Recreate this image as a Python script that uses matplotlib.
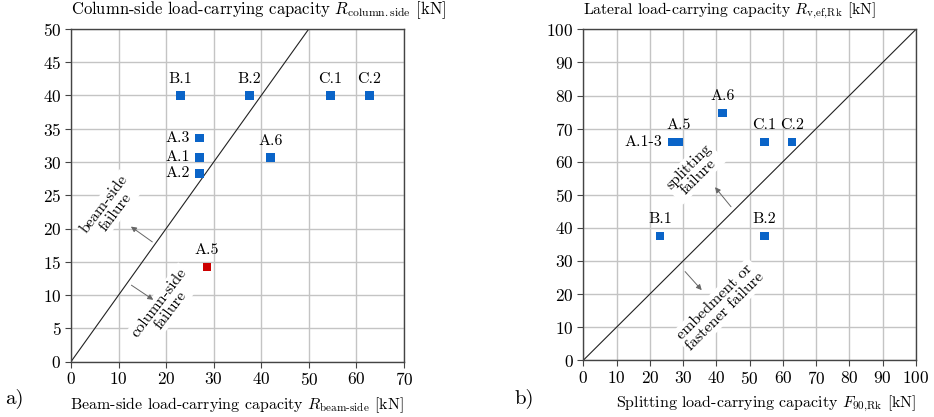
import matplotlib
matplotlib.use("Agg")
import matplotlib.pyplot as plt

plt.rcParams['font.family'] = ['cmr10', 'DejaVu Serif']
plt.rcParams['mathtext.fontset'] = 'cm'
plt.rcParams['axes.formatter.use_mathtext'] = True
plt.rcParams['font.size'] = 11

# a) beam-side vs column-side capacity
names_a = ["B.1", "B.2", "C.1", "C.2", "A.3", "A.1", "A.2", "A.6", "A.5"]
beam_side = [23.0, 37.5, 54.5, 62.7, 27.0, 27.0, 27.0, 42.0, 28.6]
column_side = [40.0, 40.0, 40.0, 40.0, 33.6, 30.7, 28.3, 30.7, 14.2]
side_a = ["top", "top", "top", "top", "left", "left", "left", "top", "top"]
colors_a = ["#0a64c8"] * 8 + ["#cc0000"]

# b) splitting vs lateral capacity
names_b = ["A.1-3", "A.5", "A.6", "C.1", "C.2", "B.1", "B.2"]
splitting = [26.8, 28.7, 41.9, 54.4, 62.7, 23.0, 54.4]
lateral = [65.9, 65.9, 74.7, 65.9, 65.9, 37.5, 37.5]
side_b = ["left", "top", "top", "top", "top", "top", "top"]

blue = "#0a64c8"
grid_c = "#c4c4c4"


def style_axes(ax, xmax, ymax, xstep, ystep):
    ax.set_xlim(0, xmax)
    ax.set_ylim(0, ymax)
    ax.set_xticks(range(0, xmax + 1, xstep))
    ax.set_yticks(range(0, ymax + 1, ystep))
    ax.grid(True, color=grid_c, lw=1.0)
    ax.set_axisbelow(True)
    for s in ax.spines.values():
        s.set_color("#444444")
        s.set_linewidth(1.0)
    ax.tick_params(direction="out", length=4, width=0.8, color="#444444",
                   pad=3, labelsize=12.5)


def label_points(ax, names, xs, ys, sides):
    for n, x, y, s in zip(names, xs, ys, sides):
        if s == "top":
            ax.annotate(n, (x, y), xytext=(0, 7), textcoords="offset points",
                        ha="center", va="bottom", fontsize=11.5)
        else:
            ax.annotate(n, (x, y), xytext=(-7, 0), textcoords="offset points",
                        ha="right", va="center", fontsize=11.5)


def note(ax, txt, xy, rot, arr_from, arr_to):
    ax.text(xy[0], xy[1], txt, rotation=rot, ha="center", va="center",
            fontsize=11.5, linespacing=1.0, rotation_mode="anchor",
            bbox=dict(facecolor="white", edgecolor="none", pad=1.5), zorder=3)
    ax.annotate("", xy=arr_to, xytext=arr_from,
                arrowprops=dict(arrowstyle="-|>", color="#666666", lw=0.7,
                                mutation_scale=8, shrinkA=0, shrinkB=0), zorder=4)


fig = plt.figure(figsize=(9.34, 4.17), dpi=100)
ax1 = fig.add_axes([0.076, 0.1326, 0.3565, 0.798])
ax2 = fig.add_axes([0.6245, 0.136, 0.3562, 0.7937])

# --- a)
style_axes(ax1, 70, 50, 10, 5)
ax1.plot([0, 50], [0, 50], color="#222222", lw=0.8, zorder=2)
ax1.scatter(beam_side, column_side, marker="s", s=38, c=colors_a,
            edgecolors="none", zorder=5)
label_points(ax1, names_a, beam_side, column_side, side_a)
note(ax1, "beam-side\nfailure", (8.2, 23.1), 53, (17.1, 18.0), (12.6, 20.3))
note(ax1, "column-side\nfailure", (19.7, 8.3), 53, (12.7, 11.5), (17.3, 9.3))
ax1.text(0, 1.025, r"Column-side load-carrying capacity $R_{\mathrm{column.side}}$ [kN]",
         transform=ax1.transAxes, ha="left", va="bottom", fontsize=12)
ax1.set_xlabel(r"Beam-side load-carrying capacity $R_{\mathrm{beam\text{-}side}}$ [kN]",
               fontsize=11.5, loc="right", labelpad=5)

# --- b)
style_axes(ax2, 100, 100, 10, 10)
ax2.plot([0, 100], [0, 100], color="#222222", lw=0.8, zorder=2)
ax2.scatter(splitting, lateral, marker="s", s=38, c=blue, edgecolors="none", zorder=5)
label_points(ax2, names_b, splitting, lateral, side_b)
note(ax2, "splitting\nfailure", (33.1, 57.0), 45, (44.4, 46.4), (39.6, 52.3))
note(ax2, "embedment or\nfastener failure", (41.1, 16.2), 45, (30.6, 26.8), (35.6, 21.2))
ax2.text(0, 1.025, r"Lateral load-carrying capacity $R_{\mathrm{v{,}ef{,}Rk}}$ [kN]",
         transform=ax2.transAxes, ha="left", va="bottom", fontsize=11.3)
ax2.set_xlabel(r"Splitting load-carrying capacity $F_{\mathrm{90{,}Rk}}$ [kN]",
               fontsize=11.5, loc="right", labelpad=5)

fig.text(0.005, 0.02, "a)", fontsize=15, ha="left", va="bottom")
fig.text(0.551, 0.02, "b)", fontsize=15, ha="left", va="bottom")

fig.savefig("out.png", dpi=100)
